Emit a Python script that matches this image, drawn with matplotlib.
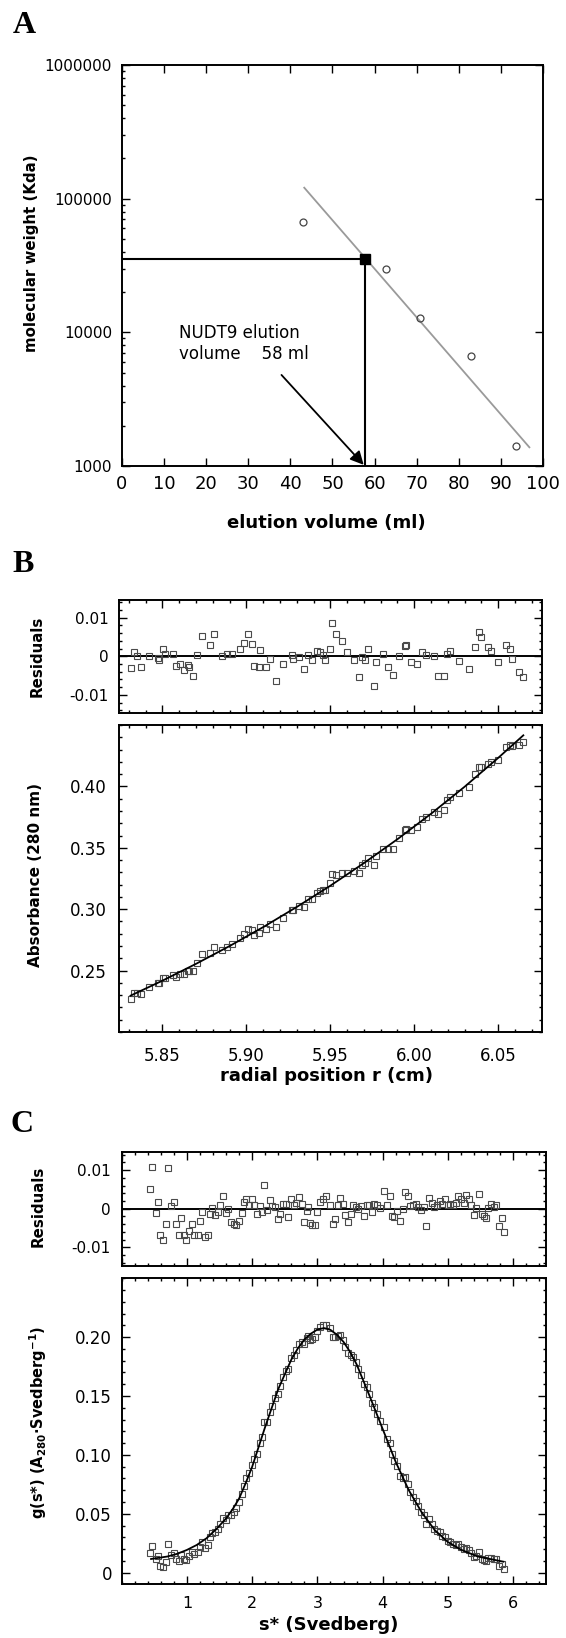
import matplotlib
matplotlib.use('Agg')
import matplotlib.pyplot as plt
from matplotlib.ticker import MultipleLocator, LogLocator, NullFormatter

plt.rcParams['font.family'] = ['DejaVu Sans']

# ---- panel A: gel filtration calibration ----
elution_ml = [42.9, 62.8, 70.7, 82.8, 93.6]
mol_weight = [67000, 29800, 12700, 6700, 1400]
fit_a_ml = [43.3, 96.7]
fit_a_mw = [120800, 1380]
nudt9_ml = 57.8
nudt9_mw = 35200
a_yticks = [1000, 10000, 100000, 1000000]
a_yticklabels = ['1000', '10000', '100000', '1000000']

# ---- panel B: sedimentation equilibrium ----
r_b = [5.8311, 5.8332, 5.8350, 5.8371, 5.8418, 5.8472, 5.8478, 5.8504, 5.8517, 5.8560,
       5.8582, 5.8607, 5.8629, 5.8650, 5.8661, 5.8685, 5.8704, 5.8736, 5.8784, 5.8805,
       5.8854, 5.8882, 5.8912, 5.8962, 5.8983, 5.9007, 5.9033, 5.9048, 5.9076, 5.9080,
       5.9117, 5.9138, 5.9177, 5.9220, 5.9269, 5.9280, 5.9312, 5.9342, 5.9368, 5.9389,
       5.9419, 5.9437, 5.9458, 5.9471, 5.9501, 5.9510, 5.9531, 5.9570, 5.9600, 5.9643,
       5.9671, 5.9690, 5.9707, 5.9725, 5.9763, 5.9772, 5.9815, 5.9843, 5.9871, 5.9907,
       5.9944, 5.9952, 5.9982, 6.0015, 6.0047, 6.0068, 6.0115, 6.0143, 6.0176, 6.0197,
       6.0214, 6.0266, 6.0326, 6.0365, 6.0386, 6.0395, 6.0438, 6.0459, 6.0498, 6.0545,
       6.0569, 6.0580, 6.0622, 6.0648]
resid_b = [-0.0031, 0.0010, 0.0000, -0.0029, 0.0000, -0.0005, -0.0009, 0.0019, 0.0007, 0.0006,
           -0.0026, -0.0019, -0.0035, -0.0023, -0.0029, -0.0052, 0.0003, 0.0053, 0.0029, 0.0059,
           0.0000, 0.0005, 0.0005, 0.0019, 0.0035, 0.0058, 0.0032, -0.0026, -0.0028, 0.0016,
           -0.0029, -0.0006, -0.0063, -0.0020, 0.0003, -0.0007, -0.0002, -0.0034, 0.0003, -0.0010,
           0.0014, 0.0010, 0.0003, -0.0009, 0.0020, 0.0087, 0.0058, 0.0039, 0.0010, -0.0009,
           -0.0055, -0.0002, -0.0009, 0.0018, -0.0076, -0.0014, 0.0005, -0.0027, -0.0049, 0.0000,
           0.0026, 0.0028, -0.0014, -0.0021, 0.0012, 0.0003, 0.0000, -0.0052, -0.0052, 0.0005,
           0.0014, -0.0012, -0.0032, 0.0025, 0.0064, 0.0050, 0.0025, 0.0014, -0.0016, 0.0029,
           0.0018, -0.0006, -0.0042, -0.0054]
abs_b = [0.2265, 0.2320, 0.2321, 0.2306, 0.2365, 0.2395, 0.2395, 0.2440, 0.2437, 0.2465,
         0.2448, 0.2472, 0.2471, 0.2498, 0.2499, 0.2493, 0.2561, 0.2634, 0.2645, 0.2690,
         0.2667, 0.2692, 0.2714, 0.2767, 0.2799, 0.2840, 0.2834, 0.2788, 0.2808, 0.2855,
         0.2839, 0.2879, 0.2854, 0.2932, 0.2996, 0.2995, 0.3026, 0.3020, 0.3080, 0.3085,
         0.3135, 0.3147, 0.3158, 0.3157, 0.3212, 0.3287, 0.3278, 0.3294, 0.3293, 0.3314,
         0.3293, 0.3364, 0.3373, 0.3417, 0.3360, 0.3430, 0.3492, 0.3487, 0.3493, 0.3577,
         0.3642, 0.3652, 0.3641, 0.3668, 0.3734, 0.3747, 0.3794, 0.3772, 0.3809, 0.3889,
         0.3916, 0.3948, 0.3996, 0.4098, 0.4162, 0.4158, 0.4184, 0.4198, 0.4214, 0.4317,
         0.4336, 0.4325, 0.4341, 0.4362]
fit_b_r = [5.831, 5.85, 5.87, 5.89, 5.91, 5.93, 5.95, 5.97, 5.99, 6.01, 6.03, 6.05, 6.065]
fit_b_abs = [0.2296, 0.2418, 0.2555, 0.2700, 0.2854, 0.3018, 0.3191, 0.3375, 0.3570,
             0.3777, 0.3997, 0.4232, 0.4416]

# ---- panel C: g(s*) distribution ----
s_c = [0.439, 0.470, 0.521, 0.562, 0.592, 0.633, 0.674, 0.715, 0.755, 0.796,
       0.837, 0.878, 0.914, 0.949, 0.990, 1.031, 1.072, 1.113, 1.164, 1.194,
       1.235, 1.276, 1.317, 1.348, 1.388, 1.429, 1.470, 1.511, 1.552, 1.593,
       1.633, 1.674, 1.715, 1.756, 1.797, 1.838, 1.868, 1.909, 1.950, 1.991,
       2.032, 2.072, 2.113, 2.154, 2.185, 2.226, 2.266, 2.307, 2.348, 2.389,
       2.430, 2.470, 2.511, 2.552, 2.593, 2.634, 2.675, 2.715, 2.756, 2.798,
       2.838, 2.853, 2.879, 2.914, 2.956, 2.997, 3.032, 3.083, 3.135, 3.185,
       3.236, 3.272, 3.312, 3.349, 3.389, 3.426, 3.466, 3.507, 3.548, 3.588,
       3.629, 3.671, 3.710, 3.752, 3.793, 3.833, 3.874, 3.915, 3.956, 4.017,
       4.068, 4.109, 4.140, 4.181, 4.222, 4.273, 4.314, 4.345, 4.385, 4.426,
       4.467, 4.507, 4.548, 4.590, 4.629, 4.671, 4.712, 4.752, 4.793, 4.834,
       4.874, 4.916, 4.957, 4.997, 5.038, 5.080, 5.120, 5.161, 5.202, 5.242,
       5.283, 5.324, 5.355, 5.395, 5.436, 5.478, 5.518, 5.559, 5.590, 5.620,
       5.662, 5.701, 5.743, 5.784, 5.824, 5.855]
resid_c = [0.0052, 0.0108, -0.0010, 0.0017, -0.0068, -0.0080, -0.0041, 0.0106, 0.0007, 0.0017,
           -0.0041, -0.0068, -0.0024, -0.0069, -0.0082, -0.0059, -0.0039, -0.0069, -0.0068, -0.0031,
           -0.0009, -0.0074, -0.0068, -0.0013, 0.0002, -0.0016, -0.0009, 0.0009, 0.0033, -0.0012,
           0.0000, -0.0035, -0.0040, -0.0042, -0.0031, -0.0010, 0.0017, 0.0026, 0.0010, 0.0026,
           0.0010, -0.0013, 0.0006, -0.0009, 0.0062, -0.0004, 0.0022, 0.0007, 0.0004, -0.0028,
           -0.0013, 0.0013, 0.0013, -0.0022, 0.0024, 0.0010, 0.0016, 0.0030, 0.0013, -0.0035,
           -0.0007, 0.0004, -0.0036, -0.0042, -0.0043, -0.0009, 0.0017, 0.0026, 0.0033, 0.0010,
           -0.0039, -0.0026, 0.0009, 0.0029, 0.0013, -0.0016, -0.0035, -0.0013, 0.0009, 0.0004,
           -0.0002, 0.0007, -0.0019, 0.0009, 0.0010, -0.0009, 0.0013, 0.0009, 0.0002, 0.0045,
           0.0010, 0.0033, -0.0019, -0.0022, -0.0007, -0.0033, -0.0002, 0.0043, 0.0033, 0.0007,
           0.0010, 0.0013, 0.0004, -0.0004, 0.0004, -0.0045, 0.0028, 0.0016, 0.0004, 0.0010,
           0.0019, 0.0013, 0.0024, 0.0010, 0.0013, 0.0009, 0.0016, 0.0033, 0.0024, 0.0016,
           0.0036, 0.0024, 0.0010, -0.0016, 0.0002, 0.0039, -0.0013, -0.0019, -0.0024, 0.0002,
           0.0013, 0.0004, 0.0009, -0.0045, -0.0024, -0.0061]
g_c = [0.0167, 0.0226, 0.0112, 0.0142, 0.0059, 0.0051, 0.0093, 0.0245, 0.0152, 0.0169,
       0.0117, 0.0098, 0.0150, 0.0113, 0.0109, 0.0143, 0.0174, 0.0156, 0.0172, 0.0221,
       0.0258, 0.0209, 0.0233, 0.0304, 0.0340, 0.0343, 0.0373, 0.0416, 0.0464, 0.0444,
       0.0488, 0.0488, 0.0518, 0.0551, 0.0596, 0.0671, 0.0739, 0.0803, 0.0843, 0.0914,
       0.0964, 0.1009, 0.1098, 0.1153, 0.1277, 0.1278, 0.1368, 0.1418, 0.1481, 0.1514,
       0.1585, 0.1661, 0.1712, 0.1728, 0.1825, 0.1849, 0.1890, 0.1938, 0.1956, 0.1943,
       0.1989, 0.2007, 0.1978, 0.1986, 0.2003, 0.2055, 0.2086, 0.2101, 0.2105, 0.2074,
       0.2005, 0.1999, 0.2014, 0.2015, 0.1979, 0.1919, 0.1862, 0.1845, 0.1828, 0.1785,
       0.1729, 0.1681, 0.1603, 0.1574, 0.1519, 0.1445, 0.1409, 0.1348, 0.1284, 0.1241,
       0.1135, 0.1100, 0.1005, 0.0945, 0.0907, 0.0819, 0.0801, 0.0809, 0.0751, 0.0682,
       0.0646, 0.0611, 0.0563, 0.0516, 0.0492, 0.0412, 0.0454, 0.0412, 0.0369, 0.0353,
       0.0342, 0.0315, 0.0306, 0.0272, 0.0261, 0.0243, 0.0237, 0.0241, 0.0219, 0.0201,
       0.0212, 0.0191, 0.0170, 0.0135, 0.0143, 0.0174, 0.0117, 0.0107, 0.0098, 0.0121,
       0.0127, 0.0114, 0.0114, 0.0055, 0.0072, 0.0032]
fit_c_s = [0.45, 0.7, 0.85, 1.0, 1.15, 1.3, 1.45, 1.6, 1.7, 1.8, 1.9, 2.0, 2.2, 2.4, 2.6, 2.7,
           2.8, 2.9, 3.0, 3.1, 3.2, 3.3, 3.4, 3.5, 3.6, 3.8, 4.0, 4.2, 4.4, 4.6, 4.8, 5.0,
           5.2, 5.45, 5.85]
fit_c_g = [0.0116, 0.0137, 0.0160, 0.0193, 0.0235, 0.0292, 0.0370, 0.0460, 0.0538, 0.0630,
           0.0760, 0.0900, 0.1240, 0.1560, 0.1810, 0.1905, 0.1980, 0.2030, 0.2065, 0.2077,
           0.2062, 0.2020, 0.1960, 0.1875, 0.1770, 0.1500, 0.1220, 0.0940, 0.0700, 0.0510,
           0.0360, 0.0260, 0.0195, 0.0138, 0.0093]

W, H = 566, 1638
fig = plt.figure(figsize=(W / 100, H / 100), dpi=100)


def axes_px(left, top, right, bottom):
    return fig.add_axes([left / W, 1 - bottom / H, (right - left) / W, (bottom - top) / H])


def style(ax, size, xpad, ypad):
    for sp in ax.spines.values():
        sp.set_linewidth(1.4)
    ax.tick_params(which='both', direction='in', top=True, right=True, width=1.0)
    ax.tick_params(which='major', length=5.5)
    ax.tick_params(which='minor', length=2.5)
    ax.tick_params(axis='x', labelsize=size, pad=xpad)
    ax.tick_params(axis='y', labelsize=size, pad=ypad)


square = dict(ls='none', marker='s', ms=5, mfc='none', mec='#4a4a4a', mew=0.8)
xlabel_font = dict(fontsize=13, fontweight='bold')

# ---------------- A ----------------
axA = axes_px(121.7, 65, 543.3, 466)
axA.set_yscale('log')
axA.set_xlim(0, 100)
axA.set_ylim(1000, 1e6)
axA.plot(fit_a_ml, fit_a_mw, color='#9a9a9a', lw=1.3)
axA.plot(elution_ml, mol_weight, ls='none', marker='o', ms=5, mfc='none', mec='#444444', mew=0.9)
axA.plot([0, nudt9_ml], [nudt9_mw, nudt9_mw], color='black', lw=1.5)
axA.plot([nudt9_ml, nudt9_ml], [1000, nudt9_mw], color='black', lw=1.5)
axA.plot([nudt9_ml], [nudt9_mw], ls='none', marker='s', ms=6.5, color='black')
axA.annotate('', xy=(57.4, 1020), xytext=(37.9, 4800),
             arrowprops=dict(arrowstyle='-|>', color='black', lw=1.3, mutation_scale=20,
                             shrinkA=0, shrinkB=0))
axA.text(13.7, 8260, 'NUDT9 elution\nvolume    58 ml', fontsize=12, ha='left', va='center')
style(axA, 12, 6.5, 7)
axA.tick_params(axis='x', labelsize=13)
axA.tick_params(axis='y', labelsize=11)
axA.set_xticks(range(0, 101, 10))
axA.set_yticks(a_yticks)
axA.set_yticklabels(a_yticklabels)
axA.yaxis.set_minor_locator(LogLocator(base=10, subs=range(2, 10)))
axA.yaxis.set_minor_formatter(NullFormatter())
axA.tick_params(which='minor', right=False)
axA.set_xlabel('elution volume (ml)', va='center', **xlabel_font)
axA.xaxis.set_label_coords(0.485, -0.142)
axA.set_ylabel('molecular weight (Kda)', va='center', fontsize=10.8, fontweight='bold')
axA.yaxis.set_label_coords(-0.213, 0.531)

# ---------------- B ----------------
axBr = axes_px(118.8, 600, 541.8, 713.3)
axB = axes_px(118.8, 725, 541.8, 1032)
for ax in (axBr, axB):
    ax.set_xlim(5.824, 6.076)
    ax.xaxis.set_major_locator(MultipleLocator(0.05))
    ax.xaxis.set_minor_locator(MultipleLocator(0.01))

axBr.axhline(0, color='black', lw=1.4)
axBr.plot(r_b, resid_b, **square)
axBr.set_ylim(-0.0148, 0.0146)
style(axBr, 11, 7, 7.5)
axBr.set_yticks([-0.01, 0, 0.01])
axBr.set_yticklabels(['-0.01', '0', '0.01'])
axBr.yaxis.set_minor_locator(MultipleLocator(0.002))
axBr.tick_params(axis='x', labelbottom=False)
axBr.set_ylabel('Residuals', va='center', fontsize=10.8, fontweight='bold')
axBr.yaxis.set_label_coords(-0.193, 0.5)

axB.plot(r_b, abs_b, **square)
axB.plot(fit_b_r, fit_b_abs, color='black', lw=1.3)
axB.set_ylim(0.20, 0.45)
style(axB, 12, 11, 9)
axB.set_yticks([0.25, 0.30, 0.35, 0.40])
axB.set_yticklabels(['0.25', '0.30', '0.35', '0.40'])
axB.yaxis.set_minor_locator(MultipleLocator(0.01))
axB.set_xticks([5.85, 5.90, 5.95, 6.00, 6.05])
axB.set_xticklabels(['5.85', '5.90', '5.95', '6.00', '6.05'])
axB.set_xlabel('radial position r (cm)', va='center', **xlabel_font)
axB.xaxis.set_label_coords(0.49, -0.142)
axB.set_ylabel('Absorbance (280 nm)', va='center', fontsize=11, fontweight='bold')
axB.yaxis.set_label_coords(-0.196, 0.511)

# ---------------- C ----------------
axCr = axes_px(121.7, 1151.7, 545.8, 1265.7)
axC = axes_px(121.7, 1278.3, 545.8, 1584.3)
for ax in (axCr, axC):
    ax.set_xlim(0, 6.5)
    ax.xaxis.set_major_locator(MultipleLocator(1))
    ax.xaxis.set_minor_locator(MultipleLocator(0.2))

axCr.axhline(0, color='black', lw=1.4)
axCr.plot(s_c, resid_c, **square)
axCr.set_ylim(-0.0148, 0.0148)
style(axCr, 11, 7, 8)
axCr.set_yticks([-0.01, 0, 0.01])
axCr.set_yticklabels(['-0.01', '0', '0.01'])
axCr.yaxis.set_minor_locator(MultipleLocator(0.002))
axCr.tick_params(axis='x', labelbottom=False)
axCr.set_ylabel('Residuals', va='center', fontsize=10.8, fontweight='bold')
axCr.yaxis.set_label_coords(-0.197, 0.524)

axC.plot(s_c, g_c, **square)
axC.plot(fit_c_s, fit_c_g, color='black', lw=1.3)
axC.set_ylim(-0.0099, 0.25)
style(axC, 12, 8.5, 7)
axC.tick_params(axis='x', labelsize=11.5)
axC.set_yticks([0, 0.05, 0.10, 0.15, 0.20])
axC.set_yticklabels(['0', '0.05', '0.10', '0.15', '0.20'])
axC.yaxis.set_minor_locator(MultipleLocator(0.01))
axC.set_xticks([1, 2, 3, 4, 5, 6])
axC.set_xticklabels(['1', '2', '3', '4', '5', '6'])
axC.set_xlabel('s* (Svedberg)', va='center', **xlabel_font)
axC.xaxis.set_label_coords(0.487, -0.132)
axC.set_ylabel(r'g(s*) (A$_{\mathbf{280}}$$\mathbf{\cdot}$Svedberg$^{\mathbf{-1}}$)',
               va='center', fontsize=10.5, fontweight='bold')
axC.yaxis.set_label_coords(-0.197, 0.53)

# panel letters
letter_font = dict(fontsize=23, fontweight='bold', family=['Liberation Serif', 'DejaVu Serif'],
                   ha='left', va='baseline')
fig.text(12.6 / W, 1 - 33.3 / H, 'A', **letter_font)
fig.text(12.6 / W, 1 - 571.7 / H, 'B', **letter_font)
fig.text(11.0 / W, 1 - 1131.7 / H, 'C', **letter_font)

fig.savefig('out.png', dpi=100)
